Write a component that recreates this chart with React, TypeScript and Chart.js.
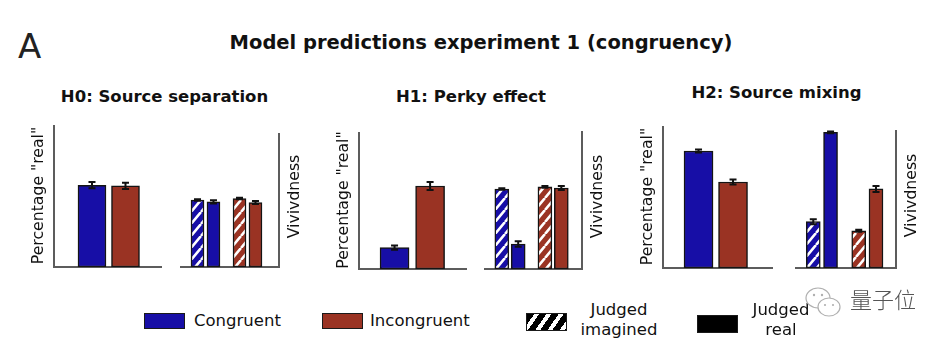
import React, { useEffect, useRef } from 'react';
import { Chart, registerables } from 'chart.js';

Chart.register(...registerables);

// ---------- data ----------
const groups = ['Congruent', 'Incongruent'];
const judgments = ['Judged imagined', 'Judged real'];
const hypotheses = ['H0: Source separation', 'H1: Perky effect', 'H2: Source mixing'];
const mainTitle = 'Model predictions experiment 1 (congruency)';
const panelLetter = 'A';
const yLabelReal = 'Percentage "real"';
const yLabelViv = 'Vivivdness';

// Percentage "real" per group (Congruent, Incongruent)
const h0Real = [0.58, 0.575];
const h0RealErr = [0.022, 0.022];
const h1Real = [0.157, 0.61];
const h1RealErr = [0.015, 0.03];
const h2Real = [0.83, 0.61];
const h2RealErr = [0.01, 0.018];

// Vividness per group, split by judgment
const h0VivImag = [0.504, 0.515];
const h0VivImagErr = [0.006, 0.006];
const h0VivReal = [0.49, 0.485];
const h0VivRealErr = [0.012, 0.012];
const h1VivImag = [0.584, 0.599];
const h1VivImagErr = [0.005, 0.006];
const h1VivReal = [0.182, 0.591];
const h1VivRealErr = [0.02, 0.015];
const h2VivImag = [0.338, 0.272];
const h2VivImagErr = [0.018, 0.007];
const h2VivReal = [0.99, 0.577];
const h2VivRealErr = [0.007, 0.022];

// ---------- styles ----------
const BLUE = '#170ea6';
const RED = '#9a3323';
const AXIS = '#5c5c5c';
const FONT = '"DejaVu Sans", Verdana, sans-serif';

function hatch(color: string) {
  const c = document.createElement('canvas');
  const w = 10, h = 12;
  c.width = w; c.height = h;
  const g = c.getContext('2d')!;
  g.fillStyle = color;
  g.fillRect(0, 0, w, h);
  g.strokeStyle = '#ffffff';
  g.lineWidth = 2.6;
  g.beginPath();
  for (const o of [-w, 0, w]) {
    g.moveTo(o, h);
    g.lineTo(o + w, 0);
  }
  g.stroke();
  return g.createPattern(c, 'repeat');
}

type DS = { label: string; x: number[]; y: number[]; err: number[]; colors: string[] };
type Spec = {
  side: 'left' | 'right';
  label: string;
  area: [number, number, number, number];
  xMin: number;
  xMax: number;
  barW: number;
  datasets: DS[];
};

const idx = groups.map((_, i) => i);
const PAIR = 0.19;

function realSpec(area: [number, number, number, number], xMin: number, xMax: number, barW: number, y: number[], err: number[]): Spec {
  return {
    side: 'left', label: yLabelReal, area, xMin, xMax, barW,
    datasets: [{ label: 'Percentage real', x: idx, y, err, colors: ['blue', 'red'] }],
  };
}
function vivSpec(area: [number, number, number, number], xMin: number, xMax: number, barW: number,
  yi: number[], ei: number[], yr: number[], er: number[]): Spec {
  return {
    side: 'right', label: yLabelViv, area, xMin, xMax, barW,
    datasets: [
      { label: judgments[0], x: idx.map((i) => i - PAIR), y: yi, err: ei, colors: ['blueHatch', 'redHatch'] },
      { label: judgments[1], x: idx.map((i) => i + PAIR), y: yr, err: er, colors: ['blue', 'red'] },
    ],
  };
}

const specs: Spec[] = [
  realSpec([54, 126, 161, 267], -1.134, 2.06, 28, h0Real, h0RealErr),
  vivSpec([181, 134, 279, 267], -0.583, 1.75, 13, h0VivImag, h0VivImagErr, h0VivReal, h0VivRealErr),
  realSpec([359, 133, 466, 269], -1.0, 2.01, 29, h1Real, h1RealErr),
  vivSpec([485, 132, 582, 269], -0.58, 1.67, 14, h1VivImag, h1VivImagErr, h1VivReal, h1VivRealErr),
  realSpec([663, 127, 772, 268], -1.03, 2.13, 29, h2Real, h2RealErr),
  vivSpec([796, 131, 896, 268], -0.57, 1.63, 14, h2VivImag, h2VivImagErr, h2VivReal, h2VivRealErr),
];

const errorBarPlugin = {
  id: 'errbars',
  afterDatasetsDraw(chart: any) {
    const ctx = chart.ctx;
    const ys = chart.scales.y;
    chart.data.datasets.forEach((ds: any, di: number) => {
      const meta = chart.getDatasetMeta(di);
      if (!ds.errors) return;
      meta.data.forEach((el: any, i: number) => {
        const v = ds.data[i].y;
        const e = ds.errors[i];
        const x = el.x;
        const y1 = ys.getPixelForValue(v + e);
        const y2 = ys.getPixelForValue(v - e);
        const cw = 7;
        ctx.save();
        ctx.strokeStyle = '#111';
        ctx.lineWidth = 2;
        ctx.beginPath();
        ctx.moveTo(x, y1); ctx.lineTo(x, y2);
        ctx.moveTo(x - cw / 2, y1); ctx.lineTo(x + cw / 2, y1);
        ctx.moveTo(x - cw / 2, y2); ctx.lineTo(x + cw / 2, y2);
        ctx.stroke();
        ctx.restore();
      });
    });
  },
};

function axisLabelPlugin(text: string, side: 'left' | 'right') {
  return {
    id: 'axisLabel',
    afterDraw(chart: any) {
      const { ctx, chartArea: a } = chart;
      const x = side === 'left' ? a.left - 15 : a.right + 16;
      const y = (a.top + a.bottom) / 2 - (side === 'left' ? 1 : 4);
      ctx.save();
      ctx.translate(x, y);
      ctx.rotate(-Math.PI / 2);
      ctx.font = '15.7px ' + FONT;
      ctx.fillStyle = '#111';
      ctx.textAlign = 'center';
      ctx.textBaseline = 'middle';
      ctx.fillText(text, 0, 0);
      ctx.restore();
    },
  };
}

function makeConfig(spec: Spec, pal: Record<string, any>): any {
  const hidden = {
    ticks: { display: false },
    grid: { display: false, drawTicks: false },
    border: { display: true, color: AXIS, width: 2 },
  };
  return {
    type: 'bar',
    data: {
      datasets: spec.datasets.map((d) => ({
        label: d.label,
        data: d.x.map((x, i) => ({ x, y: d.y[i] })),
        errors: d.err,
        backgroundColor: d.colors.map((c) => pal[c]),
        borderColor: '#141414',
        borderWidth: 1.5,
        borderSkipped: false,
        grouped: false,
        barThickness: spec.barW,
        maxBarThickness: spec.barW,
      })),
    },
    options: {
      responsive: false,
      maintainAspectRatio: false,
      animation: false,
      devicePixelRatio: 1,
      events: [],
      layout: { padding: { left: 30, right: 30, top: 6, bottom: 6 } },
      plugins: { legend: { display: false }, tooltip: { enabled: false }, title: { display: false } },
      scales: {
        x: {
          type: 'linear', min: spec.xMin, max: spec.xMax, offset: false,
          afterBuildTicks: (s: any) => { s.ticks = [{ value: spec.xMin }, { value: spec.xMax }]; },
          ...hidden,
        },
        y: {
          type: 'linear', position: spec.side, min: 0, max: 1,
          ...hidden,
        },
      },
    },
    plugins: [errorBarPlugin, axisLabelPlugin(spec.label, spec.side)],
  };
}

function SubChart({ spec }: { spec: Spec }) {
  const ref = useRef<HTMLCanvasElement | null>(null);
  useEffect(() => {
    const canvas = ref.current!;
    const [L, T, R, B] = spec.area;
    const W = R - L, H = B - T;
    const pal = { blue: BLUE, red: RED, blueHatch: hatch(BLUE), redHatch: hatch(RED) };
    const build = (w: number, h: number) => {
      canvas.width = w; canvas.height = h;
      canvas.style.width = w + 'px'; canvas.style.height = h + 'px';
      return new Chart(canvas, makeConfig(spec, pal));
    };
    let w = W + 60, h = H + 12;
    let chart = build(w, h);
    for (let k = 0; k < 3; k++) {
      const a = chart.chartArea;
      const dw = W - (a.right - a.left), dh = H - (a.bottom - a.top);
      if (Math.abs(dw) < 0.5 && Math.abs(dh) < 0.5) break;
      chart.destroy();
      w = Math.round(w + dw); h = Math.round(h + dh);
      chart = build(w, h);
    }
    const a = chart.chartArea;
    canvas.style.position = 'absolute';
    canvas.style.left = (L - a.left) + 'px';
    canvas.style.top = (T - a.top) + 'px';
    return () => chart.destroy();
  }, [spec]);
  return <canvas ref={ref} style={{ position: 'absolute' }} />;
}

function Txt(props: { x: number; y: number; size: number; bold?: boolean; anchor?: 'start' | 'middle'; color?: string; family?: string; weight?: number; children: React.ReactNode }) {
  const { x, y, size, bold, anchor = 'middle', color = '#111', family = FONT, weight } = props;
  return (
    <div style={{
      position: 'absolute', left: x, top: y, fontSize: size, lineHeight: 1,
      fontWeight: weight ?? (bold ? 700 : 400), fontFamily: family, color, whiteSpace: 'nowrap',
      transform: anchor === 'middle' ? 'translate(-50%, -50%)' : 'translate(0, -50%)',
    }}>{props.children}</div>
  );
}

function Swatch(props: { x: number; y: number; w: number; h: number; bg: string }) {
  return <div style={{ position: 'absolute', left: props.x, top: props.y, width: props.w, height: props.h, background: props.bg, border: '1px solid #1a1a1a', boxSizing: 'border-box' }} />;
}

export default function App() {
  return (
    <div style={{ position: 'fixed', left: 0, top: 0, width: 948, height: 344, background: '#fff', overflow: 'hidden', fontFamily: FONT }}>
      <Txt x={18} y={45.5} size={34} anchor="start" color="#222">{panelLetter}</Txt>
      <Txt x={481} y={43} size={19.5} bold>{mainTitle}</Txt>
      <Txt x={164.5} y={97} size={16.5} bold>{hypotheses[0]}</Txt>
      <Txt x={471} y={97} size={16.5} bold>{hypotheses[1]}</Txt>
      <Txt x={776.5} y={93} size={16.5} bold>{hypotheses[2]}</Txt>

      {specs.map((s, i) => <SubChart key={i} spec={s} />)}

      <Swatch x={144} y={313} w={41} h={16} bg={BLUE} />
      <Txt x={194} y={321} size={16.5} anchor="start">{groups[0]}</Txt>
      <Swatch x={322} y={313} w={41} h={16} bg={RED} />
      <Txt x={370} y={321} size={16.5} anchor="start">{groups[1]}</Txt>
      <Swatch x={526} y={313} w={41} h={18} bg="repeating-linear-gradient(125deg, #000 0px, #000 6px, #fff 6px, #fff 10px)" />
      <Txt x={619} y={310} size={16.5}>Judged</Txt>
      <Txt x={619} y={330} size={16.5}>imagined</Txt>
      <Swatch x={697} y={315} w={41} h={18} bg="#000" />
      <Txt x={781} y={310} size={16.5}>Judged</Txt>
      <Txt x={781} y={330} size={16.5}>real</Txt>

      <svg style={{ position: 'absolute', left: 804, top: 286 }} width={40} height={34} viewBox="0 0 40 34">
        <ellipse cx={14} cy={12} rx={12} ry={10} fill="#fff" stroke="#b0b0b0" strokeWidth={1.2} />
        <ellipse cx={25} cy={21} rx={11} ry={9} fill="#fff" stroke="#b0b0b0" strokeWidth={1.2} />
        <circle cx={10} cy={9} r={1.2} fill="#b0b0b0" />
        <circle cx={18} cy={9} r={1.2} fill="#b0b0b0" />
        <circle cx={21} cy={19} r={1.1} fill="#b0b0b0" />
        <circle cx={29} cy={19} r={1.1} fill="#b0b0b0" />
      </svg>
      <Txt x={850} y={298} size={22} anchor="start" color="#555" family='"Noto Sans CJK SC", sans-serif' weight={300}>量子位</Txt>
    </div>
  );
}
